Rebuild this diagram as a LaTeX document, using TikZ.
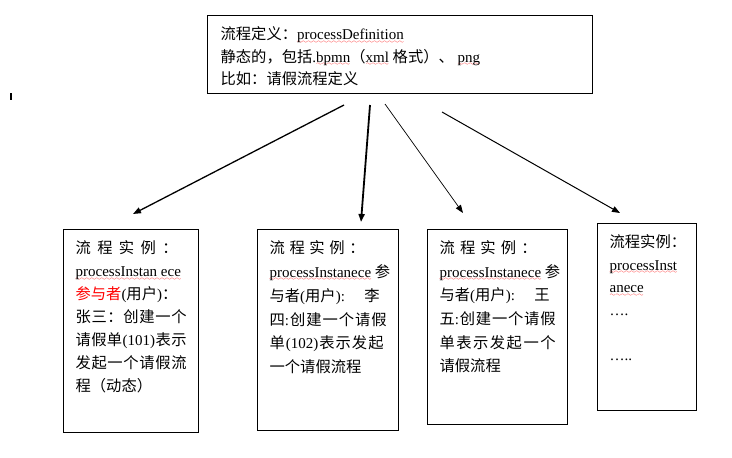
\documentclass[tikz,border=0pt]{standalone}
\usepackage{fontspec}
\usepackage{xcolor}
\usetikzlibrary{arrows.meta}
\setmainfont{Liberation Serif}
\newfontfamily\cjk{Noto Sans CJK SC}[Scale=1.02]

\font\wavefont=lasy6
\newcommand\redwave[1]{\setbox0\hbox{#1}\rlap{\raisebox{-3.5pt}[0pt][0pt]{\color{red}\hbox to\wd0{\xleaders\hbox{\wavefont\char58}\hfil}}}\box0\relax}
\newcommand\jl[2][\linewidth]{\par\noindent\hbox to#1{\rule{0pt}{14pt}#2}}
\newcommand\lline[1]{\par\noindent\hbox{\rule{0pt}{14pt}#1}}
\newcommand\boxtext[4]{\parbox[t][#1][t]{#2}{\baselineskip=#3\vspace*{10pt}#4}}

\tikzset{
  box/.style={draw, line width=1.2pt, anchor=north west, inner xsep=12pt, inner ysep=0pt,
    font=\fontsize{15}{22}\selectfont},
  link/.style={-{Triangle[length=8pt,width=6pt]}},
}

\begin{document}
\begin{tikzpicture}[x=1pt,y=-1pt]
\useasboundingbox (0,0) rectangle (732,458);

\node[box, inner xsep=13pt] (def) at (207,15) {\boxtext{78pt}{359pt}{22.5pt}{%
  \lline{{\cjk 流程定义：}\redwave{processDefinition}}
  \lline{{\cjk 静态的，包括}.\redwave{bpmn}{\cjk （}\redwave{xml} {\cjk 格式）、} \redwave{png}}
  \lline{{\cjk 比如：请假流程定义}}}};

\node[box] (inst1) at (63,229) {\boxtext{203pt}{111pt}{23pt}{%
  \jl[102pt]{\cjk 流\hfil 程\hfil 实\hfil 例\hfil ：}
  \lline{\redwave{processInstan ece}}
  \lline{{\color{red}\cjk 参与者}({\cjk 用户}){\cjk ：}}
  \jl{\cjk 张\hfil 三\hfil ：\hfil 创\hfil 建\hfil 一\hfil 个}
  \jl{{\cjk 请\hfil 假\hfil 单}\hfil(101)\hfil{\cjk 表\hfil 示}}
  \jl{\cjk 发\hfil 起\hfil 一\hfil 个\hfil 请\hfil 假\hfil 流}
  \lline{{\cjk 程（动态）}}}};

\node[box] (inst2) at (257,229) {\boxtext{201pt}{117pt}{23.8pt}{%
  \jl[95pt]{\cjk 流\hfil 程\hfil 实\hfil 例\hfil ：}
  \lline{\redwave{processInstanece} {\cjk 参}}
  \jl[110pt]{{\cjk 与者}({\cjk 用户}):\hfil{\cjk 李}}
  \jl{{\cjk 四}:\hfil{\cjk 创\hfil 建\hfil 一\hfil 个\hfil 请\hfil 假}}
  \jl[114pt]{{\cjk 单}\hfil(102)\hfil{\cjk 表\hfil 示\hfil 发\hfil 起}}
  \lline{{\cjk 一个请假流程}}}};

\node[box] (inst3) at (427,229) {\boxtext{195pt}{116pt}{23.6pt}{%
  \jl[97pt]{\cjk 流\hfil 程\hfil 实\hfil 例\hfil ：}
  \lline{\redwave{processInstanece} {\cjk 参}}
  \jl[110pt]{{\cjk 与者}({\cjk 用户}):\hfil{\cjk 王}}
  \jl{{\cjk 五}:\hfil{\cjk 创\hfil 建\hfil 一\hfil 个\hfil 请\hfil 假}}
  \jl{\cjk 单\hfil 表\hfil 示\hfil 发\hfil 起\hfil 一\hfil 个}
  \lline{{\cjk 请假流程}}}};

\node[box] (inst4) at (597,223) {\boxtext{187pt}{75pt}{22.5pt}{%
  \lline{{\cjk 流程实例：}}
  \lline{\redwave{processInst}}
  \lline{\redwave{anece}}
  \lline{….}
  \lline{}
  \lline{…..}}};

% arrows from the definition to the instances
\coordinate (s1) at (344,105); \coordinate (e1) at (133,214);
\coordinate (s2) at (370,105); \coordinate (e2) at (361,222);
\coordinate (s3) at (385,104); \coordinate (e3) at (463,213);
\coordinate (s4) at (442,112); \coordinate (e4) at (620,213);
\draw[link, line width=1.3pt] (s1) -- (e1);
\draw[link, line width=1.8pt] (s2) -- (e2);
\draw[link, line width=0.7pt] (s3) -- (e3);
\draw[link, line width=1pt] (s4) -- (e4);

\draw[line width=2pt] (11,93) -- (11,100);
\end{tikzpicture}
\end{document}
